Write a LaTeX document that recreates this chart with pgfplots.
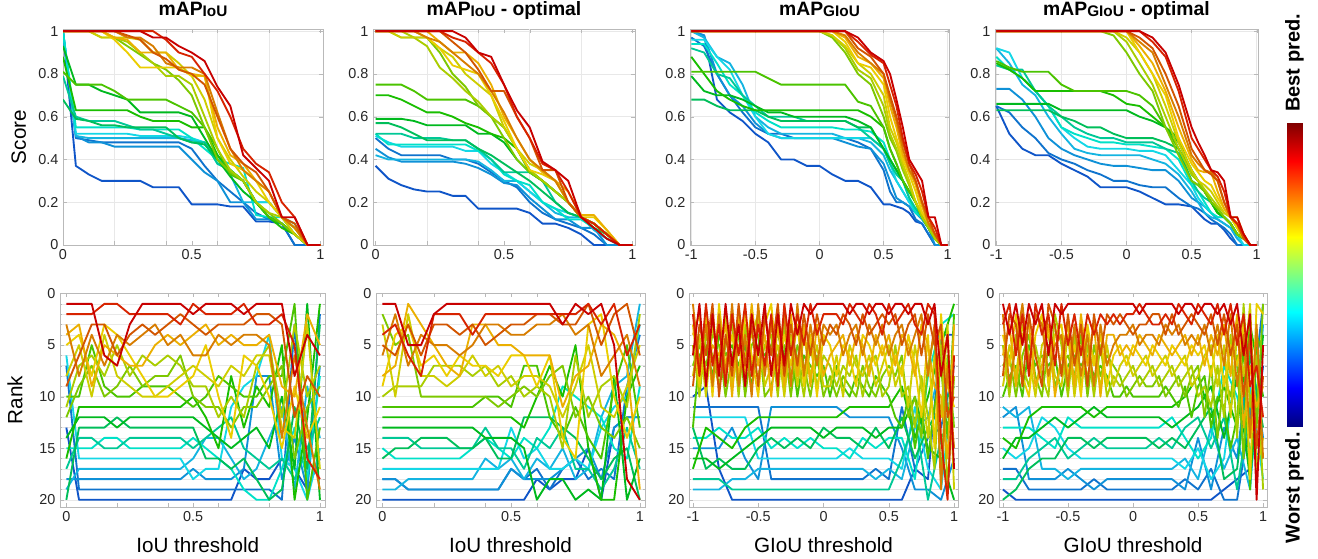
\documentclass[border=0pt]{standalone}
\usepackage{fontspec}
\setmainfont{Liberation Sans}
\usepackage{pgfplots}
\usepackage{pgfplotstable}
\pgfplotsset{compat=1.18}

% line colours, best (1) to worst (20)
\definecolor{c1}{RGB}{200,0,0}
\definecolor{c2}{RGB}{215,35,0}
\definecolor{c3}{RGB}{210,85,0}
\definecolor{c4}{RGB}{215,125,0}
\definecolor{c5}{RGB}{235,175,0}
\definecolor{c6}{RGB}{235,205,0}
\definecolor{c7}{RGB}{205,205,0}
\definecolor{c8}{RGB}{170,205,0}
\definecolor{c9}{RGB}{125,200,0}
\definecolor{c10}{RGB}{75,195,0}
\definecolor{c11}{RGB}{25,190,0}
\definecolor{c12}{RGB}{0,185,30}
\definecolor{c13}{RGB}{0,190,90}
\definecolor{c14}{RGB}{0,200,150}
\definecolor{c15}{RGB}{0,225,200}
\definecolor{c16}{RGB}{20,215,230}
\definecolor{c17}{RGB}{20,180,225}
\definecolor{c18}{RGB}{15,145,215}
\definecolor{c19}{RGB}{15,115,205}
\definecolor{c20}{RGB}{15,85,200}

\newcommand{\sub}[1]{\raisebox{-1pt}{\fontsize{11.5}{12}\selectfont #1}}

% ---------- score tables (one row per predictor, transposed below)
\pgfplotstableread[header=false]{
x 0 0.05 0.1 0.15 0.2 0.25 0.3 0.35 0.4 0.45 0.5 0.55 0.6 0.65 0.7 0.75 0.8 0.85 0.9 0.95 1
r1 1 1 1 1 1 1 1 0.97 0.97 0.93 0.9 0.86 0.74 0.65 0.42 0.36 0.3 0.13 0.13 0 0
r2 1 1 1 1 1 1 1 1 0.96 0.9 0.88 0.8 0.72 0.6 0.45 0.38 0.34 0.2 0.13 0 0
r3 1 1 1 1 1 0.98 0.96 0.9 0.87 0.82 0.8 0.75 0.6 0.45 0.38 0.34 0.25 0.13 0.1 0 0
r4 1 1 1 1 1 0.97 0.97 0.93 0.85 0.83 0.83 0.8 0.62 0.45 0.35 0.3 0.25 0.13 0.08 0 0
r5 1 1 1 1 0.97 0.96 0.9 0.9 0.9 0.82 0.8 0.79 0.55 0.42 0.38 0.3 0.25 0.13 0.08 0 0
r6 1 1 1 1 0.96 0.9 0.83 0.83 0.83 0.83 0.79 0.79 0.5 0.38 0.35 0.3 0.2 0.13 0.08 0 0
r7 1 1 1 0.97 0.97 0.97 0.96 0.9 0.9 0.85 0.79 0.68 0.5 0.4 0.32 0.25 0.2 0.13 0.05 0 0
r8 1 1 1 0.97 0.97 0.95 0.9 0.85 0.79 0.79 0.75 0.6 0.45 0.35 0.3 0.2 0.15 0.13 0.05 0 0
r9 1 1 1 1 0.97 0.93 0.89 0.85 0.82 0.77 0.7 0.55 0.4 0.34 0.3 0.2 0.15 0.1 0.05 0 0
r10 0.81 0.75 0.75 0.75 0.72 0.68 0.68 0.68 0.68 0.65 0.62 0.55 0.45 0.33 0.3 0.2 0.13 0.1 0.05 0 0
r11 0.88 0.63 0.63 0.63 0.63 0.63 0.6 0.58 0.58 0.58 0.55 0.55 0.42 0.35 0.3 0.2 0.13 0.08 0.05 0 0
r12 0.93 0.75 0.75 0.72 0.7 0.68 0.62 0.62 0.62 0.62 0.6 0.5 0.4 0.32 0.25 0.2 0.13 0.1 0.05 0 0
r13 0.68 0.59 0.58 0.56 0.56 0.55 0.55 0.55 0.55 0.5 0.48 0.47 0.4 0.35 0.3 0.2 0.13 0.1 0.05 0 0
r14 0.79 0.6 0.58 0.58 0.58 0.56 0.54 0.54 0.52 0.5 0.48 0.48 0.38 0.35 0.3 0.2 0.13 0.1 0.05 0 0
r15 1 0.55 0.55 0.55 0.55 0.55 0.54 0.54 0.54 0.54 0.5 0.45 0.4 0.38 0.36 0.14 0.13 0.13 0.1 0 0
r16 1 0.52 0.52 0.52 0.52 0.52 0.51 0.51 0.51 0.51 0.5 0.48 0.38 0.35 0.3 0.2 0.2 0.13 0.08 0 0
r17 1 0.51 0.5 0.5 0.5 0.5 0.5 0.5 0.5 0.5 0.49 0.48 0.42 0.33 0.2 0.2 0.2 0.13 0.05 0 0
r18 1 0.51 0.48 0.48 0.46 0.46 0.46 0.46 0.46 0.46 0.4 0.34 0.3 0.2 0.2 0.12 0.12 0.1 0.05 0 0
r19 1 0.5 0.49 0.48 0.48 0.48 0.48 0.48 0.48 0.48 0.45 0.37 0.3 0.25 0.2 0.15 0.12 0.1 0 0 0
r20 1 0.37 0.33 0.3 0.3 0.3 0.3 0.27 0.27 0.27 0.19 0.19 0.19 0.18 0.18 0.11 0.11 0.1 0 0 0
}\rawA
\pgfplotstabletranspose[colnames from=0]{\TA}{\rawA}

\pgfplotstableread[header=false]{
x 0 0.05 0.1 0.15 0.2 0.25 0.3 0.35 0.4 0.45 0.5 0.55 0.6 0.65 0.7 0.75 0.8 0.85 0.9 0.95 1
r1 1 1 1 1 1 1 1 0.97 0.9 0.88 0.75 0.63 0.55 0.39 0.35 0.3 0.13 0.08 0.03 0 0
r2 1 1 1 1 1 1 0.97 0.95 0.9 0.85 0.75 0.6 0.5 0.38 0.35 0.25 0.13 0.1 0.05 0 0
r3 1 1 1 1 1 1 0.95 0.9 0.82 0.72 0.72 0.6 0.5 0.35 0.35 0.2 0.13 0.1 0.05 0 0
r4 1 1 1 1 0.97 0.95 0.9 0.85 0.8 0.72 0.62 0.5 0.4 0.35 0.3 0.2 0.13 0.1 0.05 0 0
r5 1 1 1 1 1 0.95 0.9 0.9 0.85 0.75 0.6 0.5 0.4 0.34 0.3 0.25 0.14 0.14 0.07 0 0
r6 1 1 1 1 0.97 0.92 0.84 0.82 0.8 0.7 0.58 0.45 0.35 0.33 0.3 0.2 0.13 0.13 0.07 0 0
r7 1 1 0.97 0.97 0.97 0.92 0.88 0.8 0.75 0.7 0.55 0.45 0.38 0.35 0.3 0.2 0.13 0.1 0.05 0 0
r8 1 1 1 0.97 0.93 0.83 0.78 0.72 0.67 0.6 0.55 0.45 0.35 0.3 0.25 0.2 0.13 0.1 0.05 0 0
r9 1 1 0.97 0.97 0.97 0.9 0.8 0.74 0.65 0.6 0.5 0.4 0.34 0.3 0.25 0.2 0.13 0.1 0.05 0 0
r10 0.75 0.75 0.75 0.72 0.68 0.68 0.68 0.68 0.65 0.6 0.55 0.45 0.34 0.3 0.25 0.2 0.13 0.1 0.05 0 0
r11 0.7 0.7 0.68 0.65 0.62 0.62 0.6 0.57 0.55 0.52 0.5 0.45 0.35 0.3 0.25 0.2 0.13 0.1 0.05 0 0
r12 0.59 0.59 0.59 0.58 0.56 0.56 0.56 0.56 0.52 0.52 0.48 0.4 0.34 0.3 0.25 0.2 0.13 0.1 0.05 0 0
r13 0.57 0.57 0.55 0.52 0.49 0.49 0.49 0.49 0.45 0.42 0.38 0.34 0.3 0.25 0.2 0.15 0.13 0.08 0.05 0 0
r14 0.52 0.52 0.52 0.5 0.5 0.5 0.49 0.49 0.45 0.4 0.34 0.34 0.34 0.3 0.2 0.15 0.13 0.1 0.05 0 0
r15 0.52 0.47 0.47 0.47 0.47 0.47 0.47 0.47 0.44 0.4 0.33 0.3 0.28 0.2 0.17 0.12 0.12 0.08 0.03 0 0
r16 0.51 0.48 0.46 0.46 0.46 0.46 0.46 0.44 0.44 0.38 0.34 0.3 0.25 0.2 0.17 0.15 0.13 0.1 0.05 0 0
r17 0.42 0.4 0.4 0.4 0.4 0.4 0.4 0.4 0.39 0.35 0.3 0.3 0.25 0.2 0.15 0.13 0.13 0.07 0.03 0 0
r18 0.45 0.41 0.39 0.39 0.39 0.39 0.39 0.38 0.36 0.33 0.29 0.28 0.22 0.17 0.12 0.12 0.08 0.08 0 0 0
r19 0.5 0.45 0.42 0.42 0.42 0.42 0.4 0.4 0.38 0.34 0.3 0.27 0.2 0.15 0.12 0.1 0.08 0.05 0 0 0
r20 0.37 0.31 0.28 0.26 0.25 0.25 0.23 0.23 0.17 0.17 0.17 0.17 0.15 0.1 0.1 0.08 0.05 0 0 0 0
}\rawB
\pgfplotstabletranspose[colnames from=0]{\TB}{\rawB}

\pgfplotstableread[header=false]{
x -1 -0.9 -0.8 -0.7 -0.6 -0.5 -0.4 -0.3 -0.2 -0.1 0 0.1 0.2 0.3 0.4 0.5 0.55 0.6 0.65 0.7 0.75 0.8 0.85 0.9 0.95 1
r1 1 1 1 1 1 1 1 1 1 1 1 1 1 0.97 0.9 0.86 0.8 0.68 0.55 0.4 0.35 0.3 0.13 0.13 0 0
r2 1 1 1 1 1 1 1 1 1 1 1 1 1 0.95 0.89 0.85 0.75 0.65 0.5 0.38 0.33 0.25 0.13 0.08 0 0
r3 1 1 1 1 1 1 1 1 1 1 1 1 1 0.92 0.88 0.8 0.7 0.6 0.48 0.38 0.3 0.2 0.13 0.05 0 0
r4 1 1 1 1 1 1 1 1 1 1 1 1 0.98 0.9 0.85 0.8 0.68 0.58 0.45 0.35 0.3 0.2 0.1 0.05 0 0
r5 1 1 1 1 1 1 1 1 1 1 1 1 0.97 0.88 0.85 0.78 0.65 0.55 0.42 0.35 0.28 0.18 0.1 0.05 0 0
r6 1 1 1 1 1 1 1 1 1 1 1 1 0.95 0.85 0.83 0.75 0.6 0.5 0.4 0.33 0.25 0.15 0.1 0.05 0 0
r7 1 1 1 1 1 1 1 1 1 1 1 0.98 0.93 0.85 0.8 0.7 0.55 0.48 0.38 0.3 0.2 0.15 0.1 0.05 0 0
r8 1 1 1 1 1 1 1 1 1 1 1 0.98 0.92 0.82 0.78 0.65 0.52 0.45 0.36 0.28 0.2 0.13 0.08 0.03 0 0
r9 1 1 1 1 1 1 1 1 1 1 1 0.97 0.9 0.8 0.75 0.6 0.5 0.44 0.35 0.28 0.2 0.13 0.08 0.03 0 0
r10 0.81 0.81 0.81 0.81 0.81 0.81 0.78 0.75 0.75 0.75 0.75 0.75 0.75 0.67 0.65 0.55 0.45 0.38 0.3 0.25 0.2 0.13 0.08 0.03 0 0
r11 0.88 0.8 0.72 0.68 0.65 0.63 0.63 0.63 0.63 0.63 0.63 0.63 0.63 0.63 0.6 0.55 0.45 0.38 0.3 0.25 0.2 0.13 0.08 0.03 0 0
r12 0.79 0.72 0.7 0.7 0.68 0.65 0.62 0.62 0.6 0.6 0.6 0.6 0.6 0.58 0.55 0.45 0.4 0.35 0.3 0.25 0.2 0.13 0.08 0.03 0 0
r13 0.68 0.68 0.65 0.63 0.63 0.63 0.6 0.58 0.58 0.58 0.58 0.58 0.58 0.55 0.55 0.45 0.4 0.35 0.3 0.25 0.2 0.13 0.08 0.03 0 0
r14 0.92 0.9 0.8 0.78 0.7 0.65 0.6 0.6 0.6 0.58 0.58 0.58 0.58 0.55 0.5 0.45 0.38 0.33 0.3 0.22 0.17 0.13 0.08 0.03 0 0
r15 0.94 0.94 0.85 0.75 0.7 0.62 0.58 0.55 0.55 0.55 0.55 0.55 0.54 0.54 0.53 0.48 0.4 0.35 0.3 0.22 0.15 0.13 0.08 0.03 0 0
r16 0.96 0.96 0.88 0.82 0.7 0.6 0.52 0.5 0.5 0.5 0.5 0.5 0.5 0.5 0.5 0.45 0.38 0.3 0.25 0.2 0.15 0.13 0.1 0.05 0 0
r17 1 0.97 0.88 0.85 0.75 0.6 0.55 0.52 0.52 0.52 0.52 0.52 0.5 0.5 0.48 0.42 0.35 0.3 0.25 0.2 0.17 0.12 0.08 0.03 0 0
r18 1 0.98 0.8 0.7 0.65 0.57 0.52 0.5 0.5 0.5 0.5 0.5 0.48 0.46 0.45 0.38 0.3 0.22 0.2 0.18 0.15 0.12 0.08 0 0 0
r19 0.97 0.93 0.8 0.7 0.62 0.55 0.52 0.52 0.5 0.5 0.5 0.5 0.5 0.48 0.45 0.35 0.25 0.2 0.2 0.18 0.12 0.1 0.05 0 0 0
r20 1 0.98 0.68 0.62 0.58 0.52 0.48 0.4 0.4 0.37 0.37 0.33 0.3 0.3 0.27 0.19 0.19 0.18 0.17 0.15 0.11 0.1 0.05 0 0 0
}\rawC
\pgfplotstabletranspose[colnames from=0]{\TC}{\rawC}

\pgfplotstableread[header=false]{
x -1 -0.9 -0.8 -0.7 -0.6 -0.5 -0.4 -0.3 -0.2 -0.1 0 0.1 0.2 0.3 0.4 0.5 0.55 0.6 0.65 0.7 0.75 0.8 0.85 0.9 0.95 1
r1 1 1 1 1 1 1 1 1 1 1 1 1 0.97 0.9 0.75 0.55 0.48 0.42 0.35 0.34 0.3 0.13 0.13 0.05 0 0
r2 1 1 1 1 1 1 1 1 1 1 1 1 0.95 0.88 0.72 0.5 0.45 0.4 0.35 0.32 0.25 0.13 0.1 0.05 0 0
r3 1 1 1 1 1 1 1 1 1 1 1 0.97 0.92 0.8 0.65 0.45 0.4 0.35 0.33 0.3 0.2 0.13 0.1 0.03 0 0
r4 1 1 1 1 1 1 1 1 1 1 1 0.95 0.9 0.75 0.6 0.42 0.38 0.35 0.34 0.3 0.2 0.13 0.1 0.03 0 0
r5 1 1 1 1 1 1 1 1 1 1 1 0.93 0.85 0.72 0.55 0.4 0.35 0.34 0.34 0.25 0.17 0.13 0.13 0.05 0 0
r6 1 1 1 1 1 1 1 1 1 1 1 0.9 0.8 0.7 0.5 0.38 0.34 0.3 0.28 0.22 0.17 0.13 0.08 0.03 0 0
r7 1 1 1 1 1 1 1 1 1 1 0.97 0.9 0.8 0.65 0.48 0.35 0.3 0.28 0.25 0.2 0.15 0.13 0.08 0.03 0 0
r8 1 1 1 1 1 1 1 1 1 1 0.95 0.85 0.75 0.6 0.45 0.33 0.3 0.26 0.22 0.18 0.15 0.13 0.08 0.03 0 0
r9 1 1 1 1 1 1 1 1 1 0.98 0.9 0.8 0.72 0.55 0.42 0.3 0.28 0.25 0.2 0.17 0.13 0.1 0.05 0.03 0 0
r10 0.86 0.83 0.81 0.81 0.81 0.75 0.72 0.72 0.72 0.72 0.72 0.7 0.65 0.55 0.45 0.35 0.3 0.25 0.2 0.17 0.13 0.1 0.05 0.03 0 0
r11 0.85 0.82 0.78 0.72 0.72 0.72 0.72 0.72 0.72 0.7 0.66 0.65 0.6 0.55 0.5 0.33 0.3 0.25 0.2 0.15 0.13 0.1 0.05 0.03 0 0
r12 0.66 0.66 0.66 0.66 0.66 0.63 0.63 0.63 0.63 0.63 0.63 0.6 0.58 0.55 0.48 0.35 0.3 0.25 0.2 0.15 0.13 0.1 0.05 0.03 0 0
r13 0.63 0.63 0.63 0.63 0.63 0.6 0.58 0.55 0.55 0.52 0.5 0.5 0.5 0.48 0.45 0.3 0.28 0.25 0.2 0.15 0.13 0.1 0.05 0.03 0 0
r14 0.84 0.82 0.82 0.72 0.65 0.6 0.55 0.52 0.5 0.5 0.48 0.48 0.48 0.45 0.43 0.3 0.25 0.22 0.2 0.15 0.13 0.1 0.05 0.03 0 0
r15 0.88 0.82 0.78 0.72 0.65 0.55 0.52 0.5 0.48 0.48 0.47 0.47 0.46 0.45 0.4 0.28 0.25 0.2 0.15 0.13 0.13 0.1 0.05 0.03 0 0
r16 0.92 0.9 0.78 0.72 0.65 0.55 0.5 0.46 0.45 0.45 0.45 0.44 0.44 0.42 0.35 0.28 0.22 0.18 0.15 0.13 0.13 0.1 0.05 0 0 0
r17 0.92 0.85 0.75 0.7 0.6 0.52 0.45 0.43 0.42 0.42 0.42 0.42 0.4 0.38 0.33 0.25 0.2 0.15 0.13 0.12 0.1 0.08 0.03 0 0 0
r18 0.73 0.73 0.68 0.6 0.5 0.45 0.42 0.4 0.38 0.37 0.37 0.36 0.35 0.35 0.3 0.22 0.2 0.18 0.15 0.12 0.1 0.08 0.03 0 0 0
r19 0.65 0.62 0.55 0.5 0.43 0.4 0.38 0.35 0.33 0.3 0.3 0.28 0.27 0.27 0.22 0.18 0.17 0.15 0.12 0.1 0.08 0.05 0 0 0 0
r20 0.65 0.52 0.45 0.42 0.42 0.38 0.35 0.32 0.27 0.27 0.27 0.25 0.22 0.19 0.19 0.18 0.15 0.12 0.1 0.1 0.07 0.03 0 0 0 0
}\rawD
\pgfplotstabletranspose[colnames from=0]{\TD}{\rawD}

% ---------- rank tables
\pgfplotstableread[header=false]{
x 0 0.05 0.1 0.15 0.2 0.25 0.3 0.35 0.4 0.45 0.5 0.55 0.6 0.65 0.7 0.75 0.8 0.85 0.9 0.95 1
r1 1 1 1 6 7 3 1 1 1 1 2 1 1 1 2 1 1 1 8 4 6
r2 2 2 2 1 1 2 2 2 2 3 1 2 2 2 1 3 3 2 5 16 18
r3 9 6 3 3 6 4 3 4 3 2 3 4 3 3 3 2 2 3 12 8 10
r4 3 8 4 7 4 5 4 3 5 4 6 6 4 5 4 4 5 14 6 13 19
r5 4 3 9 5 6 7 7 5 4 5 4 3 5 4 5 5 4 9 10 2 5
r6 5 4 8 3 4 6 8 10 10 9 8 5 10 14 6 7 10 15 9 14 11
r7 8 5 10 4 8 9 10 10 9 8 7 8 9 7 8 6 6 13 14 3 17
r8 11 7 6 8 5 8 6 7 6 7 9 9 12 10 12 7 5 12 3 10 7
r9 12 9 7 10 9 7 9 8 8 6 10 11 11 13 11 11 9 7 16 11 9
r10 10 10 5 9 10 10 9 9 9 10 11 10 8 9 10 10 8 8 1 20 13
r11 16 11 11 11 11 11 11 11 11 11 10 12 15 8 13 9 11 5 20 12 1
r12 14 12 12 12 13 12 12 12 12 12 12 13 14 15 14 13 15 10 17 1 20
r13 20 13 13 13 12 13 13 13 13 13 13 16 16 17 16 18 20 19 11 17 3
r14 17 14 14 15 15 14 14 14 14 14 15 14 13 12 15 16 17 16 18 15 12
r15 15 15 15 14 14 15 15 15 15 15 14 15 16 17 19 20 20 17 13 18 8
r16 6 16 16 16 16 16 16 16 16 16 18 17 17 11 9 8 4 16 17 20 15
r17 19 17 17 17 17 17 17 17 17 17 16 14 14 16 18 17 14 11 19 9 14
r18 18 18 18 18 18 18 18 18 18 18 17 18 18 18 17 8 8 18 14 19 7
r19 7 19 19 19 19 19 19 19 19 19 19 19 19 19 19 19 19 20 3 19 2
r20 13 20 20 20 20 20 20 20 20 20 20 20 20 20 17 18 18 16 17 19 16
}\rawE
\pgfplotstabletranspose[colnames from=0]{\TE}{\rawE}

\pgfplotstableread[header=false]{
x 0 0.05 0.1 0.15 0.2 0.25 0.3 0.35 0.4 0.45 0.5 0.55 0.6 0.65 0.7 0.75 0.8 0.85 0.9 0.95 1
r1 1 1 5 5 2 1 1 1 1 1 1 1 1 1 3 1 2 1 5 18 20
r2 4 3 6 8 2 2 2 4 2 2 2 2 2 2 2 2 1 3 1 6 3
r3 5 6 3 6 3 3 4 3 5 4 3 3 2 2 3 3 1 5 2 1 6
r4 6 2 7 4 5 5 6 5 3 3 4 4 3 3 2 4 3 8 6 4 9
r5 8 7 1 3 5 7 8 3 3 5 5 6 6 6 11 8 7 3 4 7 19
r6 9 4 3 7 6 8 6 7 7 8 6 6 9 6 14 16 3 2 10 14 10
r7 3 10 2 8 8 9 8 6 8 7 9 8 8 9 12 9 5 11 12 9 5
r8 10 9 9 9 7 7 7 8 7 9 8 10 9 10 15 6 12 9 8 11 2
r9 2 5 4 10 10 10 10 10 10 11 10 9 10 8 7 12 10 13 14 12 15
r10 11 11 11 11 11 11 11 11 10 10 11 7 7 12 14 11 14 16 9 5 13
r11 12 12 12 12 12 12 12 12 12 12 12 13 10 7 10 5 15 20 20 10 7
r12 13 13 13 13 13 13 13 13 14 14 14 15 20 18 18 20 19 20 8 20 16
r13 16 15 15 14 14 14 15 15 14 16 16 12 12 12 13 14 16 18 16 15 20
r14 14 14 14 15 15 15 15 15 13 15 15 17 14 15 13 17 17 19 17 13 17
r15 15 16 16 16 16 16 16 15 14 15 16 14 15 13 9 10 11 12 15 16 9
r16 17 17 17 17 17 17 17 17 17 17 13 16 15 17 17 16 17 13 11 10 3
r17 19 19 18 18 18 18 18 18 16 17 16 18 16 17 15 18 17 12 9 8 1
r18 18 18 19 19 19 19 19 19 19 19 17 18 18 18 17 16 15 18 13 12 12
r19 18 18 19 19 19 19 19 19 19 19 17 18 17 19 17 16 18 17 18 9 4
r20 20 20 20 20 20 20 20 20 20 20 20 20 18 19 18 18 15 20 13 12 12
}\rawF
\pgfplotstabletranspose[colnames from=0]{\TF}{\rawF}

\pgfplotstableread{
x r1 r2 r3 r4 r5 r6 r7 r8 r9 r10
-1.00 6 2 9 1 4 3 8 5 7 13
-0.95 1 8 3 7 2 9 4 10 5 6
-0.90 9 1 6 3 8 2 10 4 7 5
-0.85 2 7 1 9 5 10 3 6 4 8
-0.80 8 3 10 2 6 1 7 9 5 4
-0.75 1 9 4 8 3 7 2 5 10 6
-0.70 7 2 8 1 10 4 9 3 6 5
-0.65 3 6 1 9 2 8 5 10 4 7
-0.60 9 1 7 4 8 2 6 3 10 5
-0.55 2 8 3 10 1 6 4 7 5 9
-0.50 6 3 9 1 7 10 2 8 4 5
-0.45 1 7 2 8 4 3 9 5 10 6
-0.40 8 2 6 3 10 1 7 4 9 5
-0.35 2 9 1 7 3 8 5 10 6 4
-0.30 7 1 8 2 9 4 10 3 5 6
-0.25 1 6 3 9 2 7 4 8 10 5
-0.20 4 2 7 1 8 3 9 6 5 10
-0.15 1 5 2 8 3 9 4 10 7 6
-0.10 2 1 6 3 9 4 8 5 10 7
-0.05 1 4 2 7 3 10 5 9 6 8
0.00 1 2 5 3 8 4 9 6 10 7
0.05 1 2 3 4 6 5 9 7 8 10
0.10 1 2 4 3 5 8 6 9 10 7
0.15 1 3 2 6 4 5 10 7 8 9
0.20 2 1 3 4 7 6 5 8 9 10
0.25 1 2 5 3 4 9 7 6 10 8
0.30 1 3 2 6 5 4 8 10 7 9
0.35 2 1 4 3 8 5 6 7 9 10
0.40 1 2 3 5 4 7 9 6 10 8
0.45 1 4 2 3 6 5 7 10 8 9
0.50 2 1 3 6 4 8 5 9 7 10
0.55 1 3 2 4 7 6 9 5 8 12
0.60 1 2 5 3 4 8 7 10 6 13
0.65 2 1 3 6 5 4 11 9 12 10
0.70 1 3 2 4 8 7 5 13 10 15
0.75 1 4 6 2 3 12 9 8 14 11
0.80 3 1 2 8 5 4 14 12 7 16
0.85 1 2 5 3 9 15 6 17 4 11
0.90 8 14 3 19 10 2 12 5 18 7
0.95 4 20 12 7 16 9 3 19 6 14
1.00 17 6 10 15 3 11 19 8 13 2
}\TGu
\pgfplotstableread{
x r11 r12 r13 r14 r15 r16 r17 r18 r19 r20
-1.0 17 16 13 18 14 12 19 15 11 10
-0.9 13 16 17 18 14 12 19 15 11 9
-0.8 14 17 16 18 13 12 19 15 11 17
-0.7 15 16 17 19 14 12 18 13 11 20
-0.6 13 15 17 19 14 12 18 16 11 20
-0.5 12 14 15 19 13 16 17 18 11 20
-0.4 12 13 14 19 15 16 17 11 18 20
-0.3 12 13 15 19 14 16 17 11 18 20
-0.2 12 13 14 19 15 16 17 11 18 20
-0.1 12 13 15 19 14 16 17 11 18 20
0.0 12 14 13 19 15 16 17 11 18 20
0.1 12 13 14 19 15 16 17 11 18 20
0.2 11 13 14 19 16 15 17 12 18 20
0.3 11 13 15 19 14 16 17 12 18 20
0.4 11 14 13 19 15 16 18 12 17 20
0.5 11 13 15 19 14 16 17 12 18 20
0.6 9 13 12 16 14 17 18 15 11 20
0.7 14 10 16 12 18 11 13 19 17 17
0.8 10 15 13 20 8 17 12 19 14 18
0.9 5 16 11 14 3 19 7 20 13 4
1.0 1 20 9 12 2 8 15 16 7 4
}\TGl

\pgfplotstableread{
x r1 r2 r3 r4 r5 r6 r7 r8 r9 r10
-1.00 1 3 8 2 6 4 9 5 7 10
-0.95 4 1 2 9 3 7 5 10 6 8
-0.90 1 6 3 5 9 2 8 4 10 7
-0.85 5 2 9 1 4 8 3 7 6 10
-0.80 1 8 2 7 3 10 6 9 4 5
-0.75 3 1 6 2 9 4 10 5 8 7
-0.70 1 4 9 3 7 2 5 8 10 6
-0.65 6 2 1 8 3 9 4 10 5 7
-0.60 1 7 3 5 10 4 8 2 9 6
-0.55 2 1 8 4 6 3 9 5 7 10
-0.50 1 5 2 9 3 8 4 10 6 7
-0.45 1 2 7 3 9 5 10 4 8 6
-0.40 1 6 3 8 2 10 5 9 4 7
-0.35 1 2 9 4 7 3 8 5 10 6
-0.30 1 4 2 9 3 7 6 10 5 8
-0.25 1 2 6 3 10 4 9 5 8 7
-0.20 1 3 2 7 4 9 5 10 6 8
-0.15 1 2 3 5 4 6 9 8 7 10
-0.10 1 3 2 4 6 5 7 9 8 10
-0.05 1 2 3 4 5 7 6 8 10 9
0.00 1 2 4 3 6 5 8 7 9 10
0.05 2 1 3 5 4 6 7 9 8 10
0.10 1 2 3 4 5 7 6 8 9 10
0.15 1 3 2 4 6 5 8 7 9 10
0.20 1 3 2 5 4 6 7 9 8 10
0.25 1 2 4 3 5 7 6 8 10 9
0.30 1 3 2 4 6 5 8 7 9 10
0.35 2 1 4 3 5 6 7 9 8 11
0.40 1 2 3 5 4 7 6 8 10 9
0.45 1 3 2 4 6 5 9 7 8 12
0.50 2 1 3 5 4 6 8 10 7 9
0.55 1 2 4 3 7 5 6 9 12 8
0.60 1 3 2 6 4 8 5 11 7 13
0.65 2 1 5 3 6 4 9 7 14 10
0.70 1 4 2 7 3 9 5 12 8 11
0.75 3 1 6 2 8 5 12 4 10 15
0.80 1 5 3 9 2 7 4 14 6 12
0.85 6 2 10 4 13 3 8 1 16 5
0.90 2 9 4 14 7 18 1 11 3 19
0.95 20 7 15 3 11 1 17 6 13 4
1.00 5 12 8 16 9 2 14 19 1 6
}\THu
\pgfplotstableread{
x r11 r12 r13 r14 r15 r16 r17 r18 r19 r20
-1.0 14 16 20 18 13 15 11 12 17 19
-0.9 15 14 19 18 13 16 12 11 17 20
-0.8 12 14 17 16 13 15 11 18 19 20
-0.7 11 13 16 15 14 12 17 18 19 20
-0.6 11 12 16 14 15 13 17 18 19 20
-0.5 11 13 14 16 12 15 18 17 19 20
-0.4 11 12 14 15 13 16 17 18 19 20
-0.3 12 11 15 14 13 16 17 19 18 20
-0.2 11 12 14 15 13 16 17 18 19 20
-0.1 11 12 14 15 13 16 17 18 19 20
0.0 11 12 14 15 13 16 17 18 19 20
0.1 11 12 14 15 13 16 17 18 19 20
0.2 11 12 15 14 13 16 17 18 19 20
0.3 11 13 14 15 12 16 17 18 19 20
0.4 10 12 15 13 14 17 16 19 18 20
0.5 8 11 13 12 16 15 18 14 19 20
0.6 12 9 11 15 14 18 13 19 17 20
0.7 9 14 18 12 7 16 17 13 20 19
0.8 13 8 17 19 10 6 14 16 20 18
0.9 3 18 6 11 15 9 19 5 12 17
1.0 10 4 13 8 16 18 3 14 1 7
}\THl

\pgfplotsset{
  ln/.style={line width=1.4pt, line join=round, mark=none},
  pbase/.style={scale only axis, anchor=north west,
    axis line style={gray!55}, tick style={gray!55},
    major tick length=3pt, minor tick length=1.5pt, tick align=inside,
    tick label style={font=\fontsize{10.8}{12}\selectfont, text=black!85},
    grid style={gray!18}, minor grid style={gray!18},
    title style={font=\bfseries\fontsize{14.5}{16}\selectfont,
      at={(axis description cs:0.5,1)}, anchor=base, yshift=4.5pt},
    label style={font=\fontsize{15.5}{18}\selectfont, text=black},
    ylabel style={at={(axis description cs:-0.17,0.5)}, anchor=center}},
  ptop/.style={pbase, height=162pt, ymin=0, ymax=1.01,
    ytick={0,0.2,0.4,0.6,0.8,1}, yticklabels={0,0.2,0.4,0.6,0.8,1}, ymajorgrids},
  ptopiou/.style={ptop, xmin=0, xmax=1.01, xtick={0,0.5,1}, xticklabels={0,0.5,1},
    extra x ticks={0.2,0.4,0.6,0.8}, extra x tick labels={},
    extra x tick style={grid=major}},
  ptopgiou/.style={ptop, xmin=-1.01, xmax=1.01, xtick={-1,-0.5,0,0.5,1},
    xticklabels={-1,-0.5,0,0.5,1}, xmajorgrids},
  pbot/.style={pbase, height=160.5pt, y dir=reverse, ymin=-0.05, ymax=20.7,
    ytick={0,5,10,15,20}, yticklabels={0,5,10,15,20}, minor ytick={1,...,20},
    ymajorgrids, yminorgrids,
    xlabel style={at={(axis description cs:0.5,-0.178)}, anchor=center}},
  pbotiou/.style={pbot, xmin=-0.025, xmax=1.02, xtick={0,0.5,1}, xticklabels={0,0.5,1},
    extra x ticks={0.2,0.4,0.6,0.8}, extra x tick labels={}, xlabel={IoU threshold}},
  pbotgiou/.style={pbot, xmin=-1.03, xmax=1.03, xtick={-1,-0.5,0,0.5,1},
    xticklabels={-1,-0.5,0,0.5,1}, xlabel={GIoU threshold}},
}

\begin{document}
\begin{tikzpicture}
\useasboundingbox (0,0) rectangle (988.5pt,-418.5pt);

% ---------- top row: scores
\begin{axis}[ptopiou, at={(47.25pt,-21.75pt)}, width=195pt,
  title={mAP\sub{IoU}}, ylabel={Score}]
\pgfplotsinvokeforeach{20,19,...,1}{\addplot[ln, c#1] table[x=x, y=r#1]{\TA};}
\end{axis}

\begin{axis}[ptopiou, at={(279.75pt,-21.75pt)}, width=196.5pt, xmin=-0.01,
  title={mAP\sub{IoU} - optimal}]
\pgfplotsinvokeforeach{20,19,...,1}{\addplot[ln, c#1] table[x=x, y=r#1]{\TB};}
\end{axis}

\begin{axis}[ptopgiou, at={(517.5pt,-21.75pt)}, width=194.25pt,
  title={mAP\sub{GIoU}}]
\pgfplotsinvokeforeach{20,19,...,1}{\addplot[ln, c#1] table[x=x, y=r#1]{\TC};}
\end{axis}

\begin{axis}[ptopgiou, at={(746.25pt,-21.75pt)}, width=197.25pt,
  title={mAP\sub{GIoU} - optimal}]
\pgfplotsinvokeforeach{20,19,...,1}{\addplot[ln, c#1] table[x=x, y=r#1]{\TD};}
\end{axis}

% ---------- bottom row: ranks
\begin{axis}[pbotiou, at={(45pt,-219.75pt)}, width=198.75pt, ylabel={Rank},
  xlabel style={at={(axis description cs:0.52,-0.178)}}]
\pgfplotsinvokeforeach{20,19,...,1}{\addplot[ln, c#1] table[x=x, y=r#1]{\TE};}
\end{axis}

\begin{axis}[pbotiou, at={(282pt,-219.75pt)}, width=201.75pt]
\pgfplotsinvokeforeach{20,19,...,1}{\addplot[ln, c#1] table[x=x, y=r#1]{\TF};}
\end{axis}

\begin{axis}[pbotgiou, at={(516.75pt,-219.75pt)}, width=201.75pt]
\pgfplotsinvokeforeach{20,19,...,11}{\addplot[ln, c#1] table[x=x, y=r#1]{\TGl};}
\pgfplotsinvokeforeach{10,9,...,1}{\addplot[ln, c#1] table[x=x, y=r#1]{\TGu};}
\end{axis}

\begin{axis}[pbotgiou, at={(749.25pt,-219.75pt)}, width=201pt]
\pgfplotsinvokeforeach{20,19,...,11}{\addplot[ln, c#1] table[x=x, y=r#1]{\THl};}
\pgfplotsinvokeforeach{10,9,...,1}{\addplot[ln, c#1] table[x=x, y=r#1]{\THu};}
\end{axis}

% ---------- colour bar
\begin{axis}[at={(965.25pt,-92.25pt)}, anchor=north west, scale only axis,
  width=11.25pt, height=227.25pt, hide axis, clip=false,
  xmin=0, xmax=1, ymin=0, ymax=1, view={0}{90}, colormap/jet]
\addplot3[surf, shader=interp, mesh/rows=9, mesh/cols=2, point meta=\thisrow{z}]
  table[x=x, y=y, z=z]{
x y z
0 0 0
1 0 0
0 0.125 0.125
1 0.125 0.125
0 0.25 0.25
1 0.25 0.25
0 0.375 0.375
1 0.375 0.375
0 0.5 0.5
1 0.5 0.5
0 0.625 0.625
1 0.625 0.625
0 0.75 0.75
1 0.75 0.75
0 0.875 0.875
1 0.875 0.875
0 1 1
1 1 1
};
\node[rotate=90, anchor=west, inner sep=0pt, font=\bfseries\fontsize{15}{18}\selectfont]
  at (axis cs:0.5,1.036,0) {Best pred.};
\node[rotate=90, anchor=east, inner sep=0pt, font=\bfseries\fontsize{15}{18}\selectfont]
  at (axis cs:0.5,-0.02,0) {Worst pred.};
\end{axis}
\end{tikzpicture}
\end{document}
